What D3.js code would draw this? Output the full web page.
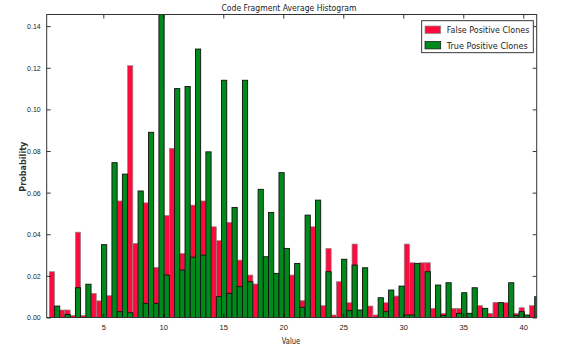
<!DOCTYPE html>
<html>
<head>
<meta charset="utf-8">
<script src="https://cdn.jsdelivr.net/npm/d3@7"></script>
<style>
  html, body { margin: 0; padding: 0; background: #fff; }
  svg { display: block; font-family: "DejaVu Sans", sans-serif; }
</style>
</head>
<body>
<div id="chart"></div>
<script>
// ---- data ----
const title = "Code Fragment Average Histogram";
const xLabel = "Value";
const yLabel = "Probability";
const seriesNames = ["False Positive Clones", "True Positive Clones"];
const seriesColors = ["#ff0a3c", "#008a1c"];
const binStart = 0.5;
const binWidth = 0.435;
const xTicks = [5, 10, 15, 20, 25, 30, 35, 40];
const yTicks = [0, 0.02, 0.04, 0.06, 0.08, 0.10, 0.12, 0.14];
const xDomain = [0.283, 41.12];
const yDomain = [0, 0.1456];

const falsePositive = [
  0.022, 0, 0.0036, 0.0036, 0.001, 0.041, 0.001, 0, 0.0116, 0.008,
  0, 0.0105, 0, 0.056, 0, 0.121, 0.0356, 0, 0.0551, 0,
  0.0241, 0, 0.049, 0.0813, 0, 0.0308, 0, 0.054, 0, 0.056,
  0, 0.0436, 0.0369, 0, 0.0457, 0, 0.0276, 0, 0.0204, 0.0161,
  0, 0, 0, 0, 0, 0, 0.0204, 0, 0.0081, 0,
  0.0436, 0, 0.0057, 0.0332, 0.0012, 0.0172, 0, 0.0071, 0.0353, 0,
  0, 0.0055, 0.0012, 0, 0.0071, 0, 0.0103, 0, 0.0353, 0.0263,
  0, 0.0263, 0.0263, 0.0044, 0.0092, 0.002, 0, 0.0044, 0.0044, 0.0103,
  0.002, 0, 0.0057, 0, 0.002, 0.0073, 0.0073, 0.0071, 0, 0.002,
  0.0047, 0, 0.0057, 0
];
const truePositive = [
  0, 0.0055, 0, 0.0014, 0, 0.0143, 0, 0.016, 0, 0,
  0.035, 0, 0.0744, 0.0028, 0.0689, 0.0023, 0, 0.0608, 0.0068, 0.089,
  0.0068, 0.1456, 0.0204, 0, 0.110, 0.0228, 0.111, 0.029, 0.129, 0.030,
  0.0796, 0, 0.01, 0.114, 0.0116, 0.0529, 0.0148, 0.114, 0.0172, 0,
  0.0616, 0.0292, 0.0505, 0.0212, 0.0696, 0.0332, 0, 0.026, 0.0049, 0.0492,
  0, 0.0564, 0, 0.022, 0, 0, 0.028, 0.0033, 0.0252, 0.0036,
  0.0239, 0, 0, 0.0095, 0.0028, 0.0132, 0, 0.0151, 0.0012, 0.0012,
  0.026, 0, 0.022, 0, 0.0156, 0.001, 0.0167, 0, 0.002, 0.0119,
  0.002, 0.0143, 0, 0.0044, 0, 0, 0.0071, 0, 0.0167, 0.001,
  0.0028, 0.0012, 0, 0.01
];

// ---- layout ----
const W = 577, H = 353;
const plot = { left: 46.7, right: 536.7, top: 14.5, bottom: 317.5 };

const svg = d3.select("#chart").append("svg")
  .attr("width", W).attr("height", H);

const x = d3.scaleLinear().domain(xDomain).range([plot.left, plot.right]);
const y = d3.scaleLinear().domain(yDomain).range([plot.bottom, plot.top]);

svg.append("defs").append("clipPath").attr("id", "clip")
  .append("rect")
  .attr("x", plot.left).attr("y", plot.top)
  .attr("width", plot.right - plot.left).attr("height", plot.bottom - plot.top);

function binsOf(values) {
  return values.map((h, i) => ({
    x0: binStart + i * binWidth,
    x1: binStart + (i + 1) * binWidth,
    h
  })).filter(d => d.h > 0);
}

const barsG = svg.append("g").attr("clip-path", "url(#clip)");
const seriesData = [falsePositive, truePositive];
const strokes = ["#8a8a8a", "#111"];
seriesData.forEach((vals, si) => {
  barsG.append("g").selectAll("rect")
    .data(binsOf(vals))
    .join("rect")
    .attr("x", d => x(d.x0))
    .attr("width", d => x(d.x1) - x(d.x0))
    .attr("y", d => y(d.h))
    .attr("height", d => y(0) - y(d.h))
    .attr("fill", seriesColors[si])
    .attr("stroke", strokes[si])
    .attr("stroke-width", si === 0 ? 0.7 : 0.9);
});

// ---- axes (inward ticks on all four sides) ----
const tickStyle = g => {
  g.select(".domain").remove();
  g.selectAll(".tick line").attr("stroke", "#000").attr("stroke-width", 0.8);
  g.selectAll(".tick text").attr("fill", "#222").attr("font-size", 7.5);
};

svg.append("g").attr("transform", `translate(0,${plot.bottom})`)
  .call(d3.axisBottom(x).tickValues(xTicks).tickSizeInner(-4).tickSizeOuter(0).tickPadding(7).tickFormat(d3.format("d")))
  .call(tickStyle)
  .call(g => g.selectAll(".tick text").attr("textLength", d => String(d).length * 4.2).attr("lengthAdjust", "spacingAndGlyphs"));
svg.append("g").attr("transform", `translate(0,${plot.top})`)
  .call(d3.axisTop(x).tickValues(xTicks).tickSizeInner(-4).tickSizeOuter(0).tickFormat(""))
  .call(tickStyle);
svg.append("g").attr("transform", `translate(${plot.left},0)`)
  .call(d3.axisLeft(y).tickValues(yTicks).tickSizeInner(-4).tickSizeOuter(0).tickPadding(6).tickFormat(d3.format(".2f")))
  .call(tickStyle)
  .call(g => g.selectAll(".tick text").attr("textLength", 13.6).attr("lengthAdjust", "spacingAndGlyphs"));
svg.append("g").attr("transform", `translate(${plot.right},0)`)
  .call(d3.axisRight(y).tickValues(yTicks).tickSizeInner(-4).tickSizeOuter(0).tickFormat(""))
  .call(tickStyle);

// frame
svg.append("rect")
  .attr("x", plot.left).attr("y", plot.top)
  .attr("width", plot.right - plot.left).attr("height", plot.bottom - plot.top)
  .attr("fill", "none").attr("stroke", "#333").attr("stroke-width", 1);

// ---- texts ----
function label(txt, px, py, size, len, opts = {}) {
  const t = svg.append("text")
    .attr("x", px).attr("y", py)
    .attr("font-size", size)
    .attr("fill", opts.fill || "#222")
    .attr("text-anchor", opts.anchor || "start")
    .attr("textLength", len)
    .attr("lengthAdjust", "spacingAndGlyphs")
    .text(txt);
  if (opts.weight) t.attr("font-weight", opts.weight);
  if (opts.rotate) t.attr("transform", `rotate(-90,${px},${py})`);
  return t;
}

label(title, 289, 11, 9.5, 135, { anchor: "middle" });
label(xLabel, 291, 344, 8.5, 18.5, { anchor: "middle" });
label(yLabel, 26, 166.7, 8.5, 50, { anchor: "middle", rotate: true, weight: 600, fill: "#333" });

// ---- legend ----
const lg = svg.append("g");
lg.append("rect")
  .attr("x", 421.7).attr("y", 20.7).attr("width", 111.6).attr("height", 32)
  .attr("fill", "#fff").attr("stroke", "#222").attr("stroke-width", 0.9);
const legendLens = [82.6, 81];
seriesNames.forEach((name, i) => {
  const yy = 26 + i * 15.5;
  lg.append("rect")
    .attr("x", 425).attr("y", yy).attr("width", 15.7).attr("height", 7.4)
    .attr("fill", seriesColors[i]).attr("stroke", strokes[i]).attr("stroke-width", 0.7);
  label(name, 446.7, yy + 7.3, 9.5, legendLens[i]);
});
</script>
</body>
</html>
